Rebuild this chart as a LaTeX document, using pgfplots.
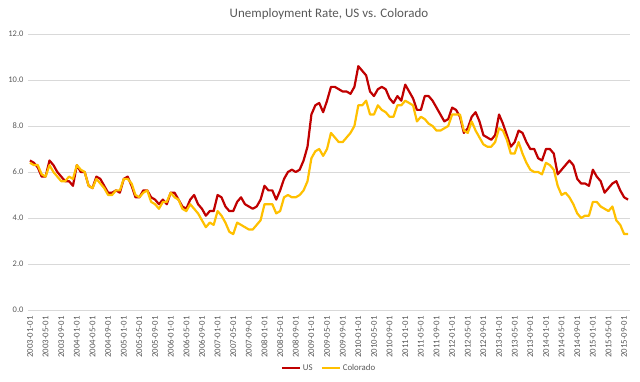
\documentclass[border=0pt]{standalone}
\usepackage{pgfplots}
\pgfplotsset{compat=1.18}
\usepackage{pgfplotstable}
\usepackage{fontspec}
\setmainfont{Carlito}
\definecolor{usred}{HTML}{C00000}
\definecolor{cogold}{HTML}{FFC000}
\definecolor{gridgray}{HTML}{D9D9D9}
\definecolor{txtgray}{HTML}{595959}

\pgfplotstableread{
i us co
0 6.5 6.4
1 6.4 6.3
2 6.2 6.3
3 5.8 5.9
4 5.8 5.8
5 6.5 6.3
6 6.3 6.0
7 6.0 5.8
8 5.8 5.6
9 5.6 5.6
10 5.6 5.8
11 5.4 5.7
12 6.3 6.3
13 6.0 6.1
14 6.0 6.0
15 5.4 5.4
16 5.3 5.3
17 5.8 5.7
18 5.7 5.5
19 5.4 5.3
20 5.1 5.0
21 5.1 5.0
22 5.2 5.2
23 5.1 5.2
24 5.7 5.7
25 5.8 5.7
26 5.4 5.5
27 4.9 5.0
28 4.9 4.9
29 5.2 5.1
30 5.2 5.2
31 4.9 4.7
32 4.8 4.6
33 4.6 4.4
34 4.8 4.7
35 4.6 4.7
36 5.1 5.1
37 5.1 4.9
38 4.8 4.8
39 4.5 4.4
40 4.4 4.3
41 4.8 4.6
42 5.0 4.4
43 4.6 4.2
44 4.4 3.9
45 4.1 3.6
46 4.3 3.8
47 4.3 3.7
48 5.0 4.3
49 4.9 4.1
50 4.5 3.8
51 4.3 3.4
52 4.3 3.3
53 4.7 3.8
54 4.9 3.7
55 4.6 3.6
56 4.5 3.5
57 4.4 3.5
58 4.5 3.7
59 4.8 3.9
60 5.4 4.6
61 5.2 4.6
62 5.2 4.6
63 4.8 4.2
64 5.2 4.3
65 5.7 4.9
66 6.0 5.0
67 6.1 4.9
68 6.0 4.9
69 6.1 5.0
70 6.5 5.2
71 7.1 5.6
72 8.5 6.6
73 8.9 6.9
74 9.0 7.0
75 8.6 6.7
76 9.1 7.0
77 9.7 7.7
78 9.7 7.5
79 9.6 7.3
80 9.5 7.3
81 9.5 7.5
82 9.4 7.7
83 9.7 8.0
84 10.6 8.9
85 10.4 8.9
86 10.2 9.1
87 9.5 8.5
88 9.3 8.5
89 9.6 8.9
90 9.7 8.7
91 9.6 8.6
92 9.2 8.4
93 9.0 8.4
94 9.3 8.9
95 9.1 8.9
96 9.8 9.1
97 9.5 9.0
98 9.2 8.9
99 8.7 8.2
100 8.7 8.4
101 9.3 8.3
102 9.3 8.1
103 9.1 8.0
104 8.8 7.8
105 8.5 7.8
106 8.2 7.9
107 8.3 8.0
108 8.8 8.5
109 8.7 8.5
110 8.4 8.5
111 7.7 7.8
112 7.9 7.7
113 8.4 8.2
114 8.6 7.8
115 8.2 7.5
116 7.6 7.2
117 7.5 7.1
118 7.4 7.1
119 7.6 7.3
120 8.5 7.9
121 8.1 7.8
122 7.6 7.4
123 7.1 6.8
124 7.3 6.8
125 7.8 7.3
126 7.7 6.8
127 7.3 6.4
128 7.0 6.1
129 7.0 6.0
130 6.6 6.0
131 6.5 5.9
132 7.0 6.4
133 7.0 6.3
134 6.8 6.1
135 5.9 5.4
136 6.1 5.0
137 6.3 5.1
138 6.5 4.9
139 6.3 4.6
140 5.7 4.2
141 5.5 4.0
142 5.5 4.1
143 5.4 4.1
144 6.1 4.7
145 5.8 4.7
146 5.6 4.5
147 5.1 4.4
148 5.3 4.3
149 5.5 4.5
150 5.6 3.9
151 5.2 3.7
152 4.9 3.3
153 4.8 3.3
}\datatable

\begin{document}
\begin{tikzpicture}
\path[use as bounding box] (-28pt,-72pt) rectangle (612pt,310pt);
\begin{axis}[
  scale only axis, width=602pt, height=276pt,
  xmin=-0.5, xmax=153.5, ymin=0, ymax=12,
  ytick={0,2,...,12},
  xtick={0,4,...,152},
  xticklabels={2003-01-01,2003-05-01,2003-09-01,2004-01-01,2004-05-01,2004-09-01,2005-01-01,2005-05-01,2005-09-01,2006-01-01,2006-05-01,2006-09-01,2007-01-01,2007-05-01,2007-09-01,2008-01-01,2008-05-01,2008-09-01,2009-01-01,2009-05-01,2009-09-01,2010-01-01,2010-05-01,2010-09-01,2011-01-01,2011-05-01,2011-09-01,2012-01-01,2012-05-01,2012-09-01,2013-01-01,2013-05-01,2013-09-01,2014-01-01,2014-05-01,2014-09-01,2015-01-01,2015-05-01,2015-09-01},
  axis line style={draw=none},
  tick style={draw=none},
  ymajorgrids,
  major grid style={gridgray, line width=0.8pt},
  /pgf/number format/.cd, fixed, fixed zerofill, precision=1, assume math mode=true,
  /pgfplots/.cd,
  yticklabel style={font=\fontsize{8.5}{10}\selectfont, text=txtgray, xshift=-1pt},
  xticklabel style={font=\fontsize{8.8}{10}\selectfont, text=txtgray, rotate=90, anchor=east, xshift=-3pt},
  title={Unemployment Rate, US vs. Colorado},
  title style={font=\fontsize{13}{15}\selectfont, text=txtgray, at={(0.5,1)}, anchor=center, yshift=14pt},
  legend style={at={(0.5,-0.21)}, anchor=center, legend columns=2, draw=none,
    font=\fontsize{8.8}{10}\selectfont, text=txtgray,
    /tikz/every even column/.append style={column sep=6pt}},
  legend image code/.code={\draw[#1] (0pt,0pt) -- (18pt,0pt);},
]
\addplot[usred, line width=2.2pt, line join=round] table[x=i, y=us] {\datatable};
\addlegendentry{US}
\addplot[cogold, line width=2.2pt, line join=round] table[x=i, y=co] {\datatable};
\addlegendentry{Colorado}
\end{axis}
\end{tikzpicture}
\end{document}
